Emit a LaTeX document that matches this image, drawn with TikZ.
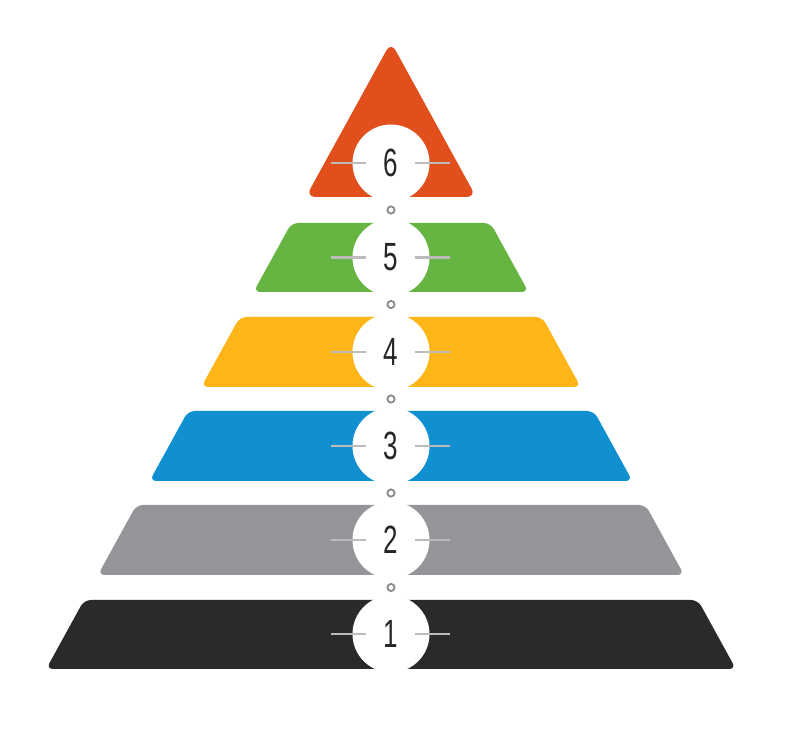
\documentclass[tikz,border=0pt]{standalone}
\usepackage{fontspec}
\setmainfont{Liberation Sans}
\definecolor{tierone}{HTML}{2A2A2A}
\definecolor{tiertwo}{HTML}{939598}
\definecolor{tierthree}{HTML}{1090D0}
\definecolor{tierfour}{HTML}{FDB517}
\definecolor{tierfive}{HTML}{66B543}
\definecolor{tiersix}{HTML}{E04F1C}
\definecolor{tick}{HTML}{BCBCBC}
\definecolor{ring}{HTML}{8A8A8A}
\tikzset{
  tier/.style={rounded corners=0.17cm},
  hole/.style={fill=white},
  tickline/.style={draw=tick,line width=1.6pt},
  ringdot/.style={draw=ring,line width=1.3pt},
  tiernum/.style={text=black!85,inner sep=0pt,font=\fontsize{28}{28}\selectfont}
}
\newcommand{\tiertext}[1]{\scalebox{0.66}[1]{#1}}

\begin{document}
\begin{tikzpicture}[x=0.025cm,y=-0.025cm]
\useasboundingbox (0,0) rectangle (790,740);
\fill[tier,tierone] (46.2,669) -- (84.1,600) -- (697.9,600) -- (735.9,669) -- cycle; % Tier.1
\fill[tier,tiertwo] (97.9,575) -- (136.4,505) -- (645.6,505) -- (684.1,575) -- cycle; % Tier.2
\fill[tier,tierthree] (149.6,481) -- (188.1,411) -- (593.9,411) -- (632.4,481) -- cycle; % Tier.3
\fill[tier,tierfour] (201.3,387) -- (239.8,317) -- (542.2,317) -- (580.7,387) -- cycle; % Tier.4
\fill[tier,tierfive] (253.5,292) -- (291.5,223) -- (490.5,223) -- (528.5,292) -- cycle; % Tier.5
\fill[rounded corners=0.24cm,tiersix] (305.8,197) -- (391,42) -- (476.2,197) -- cycle; % Tier.6
\fill[hole] (391,634) circle (38.5) ; % Hole.1
\fill[hole] (391,540) circle (38.5) ; % Hole.2
\fill[hole] (391,446) circle (38.5) ; % Hole.3
\fill[hole] (391,352) circle (38.5) ; % Hole.4
\fill[hole] (391,257.5) circle (38.5) ; % Hole.5
\fill[hole] (391,163) circle (38.5) ; % Hole.6
\draw[tickline] (331,634) -- (366,634) (415,634) -- (450,634) ; % Tick.1
\draw[tickline] (331,540) -- (366,540) (415,540) -- (450,540) ; % Tick.2
\draw[tickline] (331,446) -- (366,446) (415,446) -- (450,446) ; % Tick.3
\draw[tickline] (331,352) -- (366,352) (415,352) -- (450,352) ; % Tick.4
\draw[tickline] (331,257.5) -- (366,257.5) (415,257.5) -- (450,257.5) ; % Tick.5
\draw[tickline] (331,163) -- (366,163) (415,163) -- (450,163) ; % Tick.6
\draw[ringdot] (391,587.5) circle (3.6) ; % Ring.12
\draw[ringdot] (391,493) circle (3.6) ; % Ring.23
\draw[ringdot] (391,399) circle (3.6) ; % Ring.34
\draw[ringdot] (391,304.5) circle (3.6) ; % Ring.45
\draw[ringdot] (391,210) circle (3.6) ; % Ring.56
\node[tiernum] (num1) at (391,634) {\tiertext{1}}; % Label.1
\node[tiernum] (num2) at (391,540) {\tiertext{2}}; % Label.2
\node[tiernum] (num3) at (391,446) {\tiertext{3}}; % Label.3
\node[tiernum] (num4) at (391,352) {\tiertext{4}}; % Label.4
\node[tiernum] (num5) at (391,257.5) {\tiertext{5}}; % Label.5
\node[tiernum] (num6) at (391,163) {\tiertext{6}}; % Label.6
\end{tikzpicture}
\end{document}
